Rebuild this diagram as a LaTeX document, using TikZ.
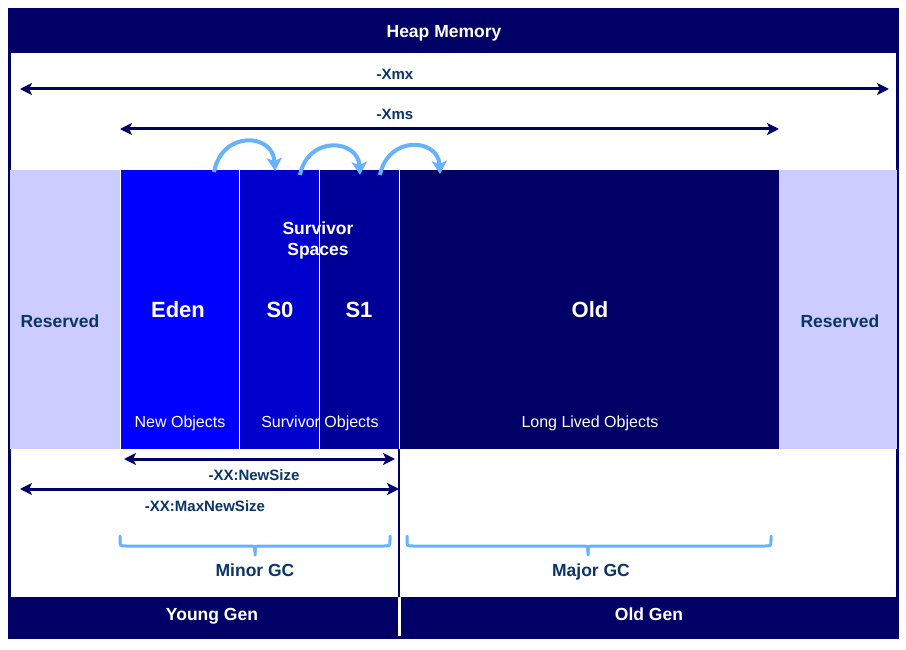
\documentclass[tikz,border=0pt]{standalone}
\usepackage{fontspec}
\setmainfont{Liberation Sans}
\usetikzlibrary{arrows.meta}
\definecolor{navy}{HTML}{000066}
\definecolor{reserved}{HTML}{CCCCFF}
\definecolor{edenblue}{HTML}{0000FF}
\definecolor{szero}{HTML}{0000CC}
\definecolor{sone}{HTML}{000099}
\definecolor{lightblue}{HTML}{66B2FF}
\definecolor{labeltext}{HTML}{0A3566}
\tikzset{
  cell/.style={rectangle, draw=white, line width=1pt, inner sep=0pt, outer sep=0pt, anchor=north west},
  bar/.style={rectangle, fill=navy, draw=none, inner sep=0pt, outer sep=0pt, anchor=north west},
  % node box spans the capital height only, so the centre sits at mid-cap
  capbox/.style={text height=#1, text depth=0pt, inner sep=0pt},
  titletext/.style={capbox=12.5pt, font=\fontsize{17.5}{21}\selectfont\bfseries, text=white},
  bigtext/.style={capbox=15.75pt, font=\fontsize{22}{26}\selectfont\bfseries, text=white},
  objtext/.style={capbox=11.5pt, font=\fontsize{16}{19}\selectfont, text=white},
  dimtext/.style={capbox=10.7pt, font=\fontsize{15}{18}\selectfont\bfseries, text=labeltext},
  gctext/.style={capbox=12.5pt, font=\fontsize{17.5}{21}\selectfont\bfseries, text=labeltext},
  dimarrow/.style={draw=navy, line width=3pt,
    {Stealth[length=12pt,width=12pt,inset=3pt]}-{Stealth[length=12pt,width=12pt,inset=3pt]}},
  promote/.style={draw=lightblue, line width=4pt, -{Stealth[length=13pt,width=15pt,inset=3pt]}},
  gcbrace/.style={draw=lightblue, line width=3pt, line cap=round, line join=round},
}
\begin{document}
\begin{tikzpicture}[x=1pt,y=-1pt]
\useasboundingbox (0,0) rectangle (906,650);
\fill[white] (0,0) rectangle (906,650);

% outer frame and header
\draw[navy, line width=3pt] (9.5,10) rectangle (897.5,637);
\node[bar, minimum width=889, minimum height=43] (header) at (9,10) {};
\node[titletext] (heaptitle) at (444,31) {Heap Memory};

% heap regions
\node[cell, draw=none, fill=reserved, minimum width=110, minimum height=279] (resl) at (10,170) {};
\node[cell, fill=edenblue, minimum width=119, minimum height=279] (eden) at (120,170) {};
\node[cell, fill=szero, minimum width=80, minimum height=279] (s0) at (239,170) {};
\node[cell, fill=sone, minimum width=80, minimum height=279] (s1) at (319,170) {};
\node[cell, fill=navy, minimum width=380, minimum height=279] (old) at (399,170) {};
\node[cell, draw=none, fill=reserved, minimum width=118, minimum height=279] (resr) at (779,170) {};

% region labels
\node[gctext] (reslabel) at (60,321) {Reserved};
\node[gctext] (resrlabel) at (840,321) {Reserved};
\node[bigtext] (edenlabel) at (178,310) {Eden};
\node[bigtext] (s0label) at (280,310) {S0};
\node[bigtext] (s1label) at (359,310) {S1};
\node[bigtext] (oldlabel) at (590,310) {Old};
\node[titletext] (survlabel1) at (318,228) {Survivor};
\node[titletext] (survlabel2) at (318,249) {Spaces};
\node[objtext] (newobj) at (180,422) {New Objects};
\node[objtext] (survobj) at (320,422) {Survivor Objects};
\node[objtext] (longobj) at (590,422) {Long Lived Objects};

% heap size arrows
\coordinate (xmxl) at (20,89);
\coordinate (xmxr) at (889,89);
\draw[dimarrow] (xmxl) -- (xmxr);
\node[dimtext] (xmxlabel) at (395,74) {-Xmx};
\coordinate (xmsl) at (120,129);
\coordinate (xmsr) at (779,129);
\draw[dimarrow] (xmsl) -- (xmsr);
\node[dimtext] (xmslabel) at (395,114) {-Xms};

% promotion arrows
\coordinate (pa1) at (214,172);
\coordinate (pb1) at (275,171);
\coordinate (pa2) at (300,175);
\coordinate (pb2) at (360,175);
\coordinate (pa3) at (380,175);
\coordinate (pb3) at (440,174);
\draw[promote] (pa1) .. controls +(8,-42) and +(-2,-38) .. (pb1);
\draw[promote] (pa2) .. controls +(8,-40) and +(-2,-36) .. (pb2);
\draw[promote] (pa3) .. controls +(8,-40) and +(-2,-36) .. (pb3);

% young generation sizes
\coordinate (nsl) at (124,459);
\coordinate (nsr) at (395,459);
\draw[dimarrow] (nsl) -- (nsr);
\node[dimtext] (nslabel) at (254,475) {-XX:NewSize};
\coordinate (mnsl) at (20,489);
\coordinate (mnsr) at (399,489);
\draw[dimarrow] (mnsl) -- (mnsr);
\node[dimtext] (mnslabel) at (205,506) {-XX:MaxNewSize};

% generation bars
\node[bar, minimum width=389, minimum height=40] (young) at (9,597) {};
\node[bar, minimum width=497, minimum height=40] (oldgen) at (401,597) {};
\node[titletext] (younglabel) at (212,614) {Young Gen};
\node[titletext] (oldgenlabel) at (649,614) {Old Gen};
\draw[navy, line width=2.5pt] (old.south west) -- (old.south west |- young.north);

% collection braces
\draw[gcbrace] (120,536) -- (120,540) .. controls (120,546) .. (126,546)
  -- (249,546) .. controls (255,546) .. (255,552) -- (255,555);
\draw[gcbrace] (255,552) .. controls (255,546) .. (261,546)
  -- (384,546) .. controls (390,546) .. (390,540) -- (390,536);
\node[gctext] (minorgc) at (255,570) {Minor GC};
\draw[gcbrace] (407,536) -- (407,540) .. controls (407,546) .. (413,546)
  -- (582,546) .. controls (588,546) .. (588,552) -- (588,555);
\draw[gcbrace] (588,552) .. controls (588,546) .. (594,546)
  -- (765,546) .. controls (771,546) .. (771,540) -- (771,536);
\node[gctext] (majorgc) at (591,570) {Major GC};
\end{tikzpicture}
\end{document}
